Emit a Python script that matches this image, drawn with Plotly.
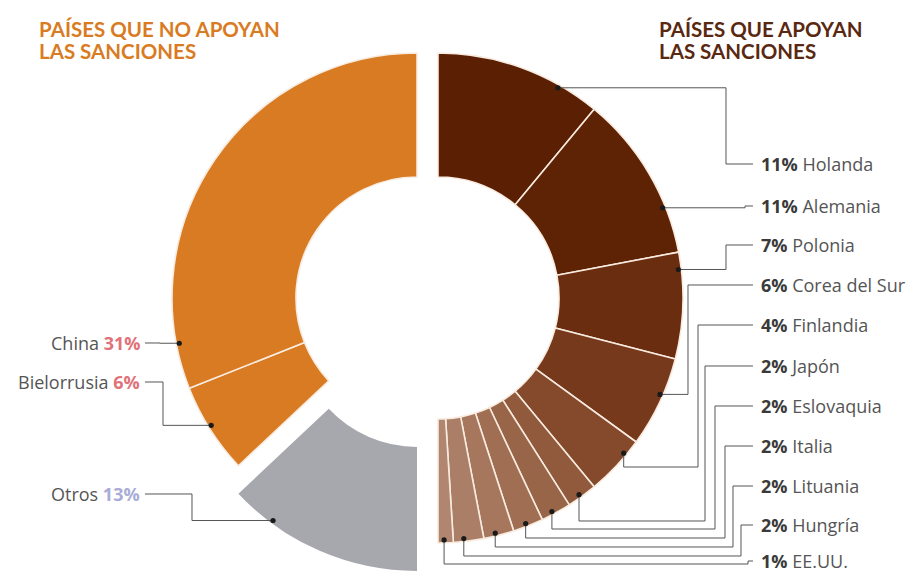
import math
import plotly.graph_objects as go

# ---------------- data ----------------
right_countries = ["Holanda", "Alemania", "Polonia", "Corea del Sur", "Finlandia", "Japón",
                   "Eslovaquia", "Italia", "Lituania", "Hungría", "EE.UU."]
right_values = [11, 11, 7, 6, 4, 2, 2, 2, 2, 2, 1]
left_countries = ["China", "Bielorrusia", "Otros"]
left_values = [31, 6, 13]
title_right = ["PAÍSES QUE APOYAN", "LAS SANCIONES"]
title_left = ["PAÍSES QUE NO APOYAN", "LAS SANCIONES"]

# ---------------- style / layout ----------------
PAGE_W, PAGE_H = 914, 572
OFF = 8                      # page body margin of the html page
W, H = PAGE_W - OFF, PAGE_H - OFF
R_OUT, HOLE = 245, 0.494
C_RIGHT = (438, 298)
C_ORANGE = (417, 298)
C_GREY = (417, 326)
right_colors = ["#5b1f03", "#5e2205", "#6a2d0f", "#77391b", "#85492b", "#915a3d",
                "#996548", "#a06e53", "#a6775d", "#ab7f67", "#b08670"]
orange = "#d97b22"
grey = "#a7a7ae"
sep = "#f8ebdf"
clear = "rgba(0,0,0,0)"
LABEL_FONT = "'Open Sans', 'Noto Sans', sans-serif"
TITLE_FONT = "Lato, sans-serif"
LABEL_SIZE = 18

right_anchor_frac = [0.75, 0.72, 0.16, 0.42, 0.27, 0.55, 0.6, 0.55, 0.6, 0.65, 0.6]
right_label_y = [164, 206, 245, 285, 325, 366, 406, 446, 486, 525, 561]
right_elbow_x = [726, 745, 726, 688, 698, 705, 715, 725, 733, 741, 748]
right_drop_y = [None, None, None, None, 467, 521, 529, 538, 547, 556, 564]
right_line_end = 753
right_text_x = 759

left_anchor_frac = [0.097, 0.53, 0.78]
left_label_y = [343, 382, 494]
left_elbow_x = [160, 163, 192]
left_line_start = 145
left_text_x = 142
left_pct_colors = ["#e0727a", "#e0727a", "#a9acd6"]


def px(x):
    return (x - OFF) / W


def py(y):
    return 1 - (y - OFF) / H


def domain(c):
    cx, cy = c
    return dict(x=[px(cx - R_OUT), px(cx + R_OUT)], y=[py(cy + R_OUT), py(cy - R_OUT)])


def polar(c, r, pct):
    th = math.radians(pct * 3.6)
    return c[0] + r * math.sin(th), c[1] - r * math.cos(th)


fig = go.Figure()

# right half (supporting)
half = sum(right_values)
fig.add_trace(go.Pie(
    values=right_values + [sum(left_values)],
    labels=right_countries + ["_rest"],
    sort=False, direction="clockwise", rotation=0, hole=HOLE,
    marker=dict(colors=right_colors + [clear],
                line=dict(color=[sep] * len(right_values) + [clear],
                          width=[1.6] * len(right_values) + [0])),
    textinfo="none", hoverinfo="skip", showlegend=False,
    domain=domain(C_RIGHT),
))

# orange part (China, Bielorrusia)
otros = left_values[2]
fig.add_trace(go.Pie(
    values=[half, otros, left_values[1], left_values[0]],
    labels=["_r", "_o", left_countries[1], left_countries[0]],
    sort=False, direction="clockwise", rotation=0, hole=HOLE,
    marker=dict(colors=[clear, clear, orange, orange],
                line=dict(color=[clear, clear, sep, sep], width=[0, 0, 1.6, 1.6])),
    textinfo="none", hoverinfo="skip", showlegend=False,
    domain=domain(C_ORANGE),
))

# grey part (Otros)
fig.add_trace(go.Pie(
    values=[half, otros, left_values[1] + left_values[0]],
    labels=["_r", left_countries[2], "_l"],
    sort=False, direction="clockwise", rotation=0, hole=HOLE,
    marker=dict(colors=[clear, grey, clear],
                line=dict(color=[clear, grey, clear], width=[0, 0, 0])),
    textinfo="none", hoverinfo="skip", showlegend=False,
    domain=domain(C_GREY),
))

shapes = []
annotations = []
line_style = dict(color="#555555", width=1)
DOT = 2.6


def dot(x, y):
    shapes.append(dict(type="circle", xref="paper", yref="paper",
                       x0=px(x - DOT), x1=px(x + DOT), y0=py(y + DOT), y1=py(y - DOT),
                       fillcolor="#1a1a1a", line=dict(width=0)))


def path(pts):
    d = "M " + " L ".join(f"{px(x):.5f},{py(y):.5f}" for x, y in pts)
    shapes.append(dict(type="path", xref="paper", yref="paper", path=d, line=line_style))


# right connectors + labels
cum = 0
for i, (name, v) in enumerate(zip(right_countries, right_values)):
    pct = cum + v * right_anchor_frac[i]
    cum += v
    dx, dy = polar(C_RIGHT, R_OUT - 3, pct)
    ly, ex, dr = right_label_y[i], right_elbow_x[i], right_drop_y[i]
    if dr is None:
        pts = [(dx, dy), (ex, dy), (ex, ly), (right_line_end, ly)]
    else:
        pts = [(dx, dy), (dx, dr), (ex, dr), (ex, ly), (right_line_end, ly)]
    path(pts)
    dot(dx, dy)
    annotations.append(dict(
        x=px(right_text_x), y=py(ly), xref="paper", yref="paper",
        xanchor="left", yanchor="middle", showarrow=False,
        text=f"<b><span style='color:#3a3a3a'>{v}%</span></b> {name}",
        font=dict(family=LABEL_FONT, size=LABEL_SIZE, color="#555555"),
    ))

# left connectors + labels (Otros from grey centre, others from orange centre)
starts = {"Otros": half, "Bielorrusia": half + otros, "China": half + otros + left_values[1]}
for i, (name, v) in enumerate(zip(left_countries, left_values)):
    c = C_GREY if name == "Otros" else C_ORANGE
    pct = starts[name] + v * left_anchor_frac[i]
    dx, dy = polar(c, R_OUT - 3, pct)
    ly, ex = left_label_y[i], left_elbow_x[i]
    path([(left_line_start, ly), (ex, ly), (ex, dy), (dx, dy)])
    dot(dx, dy)
    annotations.append(dict(
        x=px(left_text_x), y=py(ly), xref="paper", yref="paper",
        xanchor="right", yanchor="middle", showarrow=False,
        text=f"{name} <b><span style='color:{left_pct_colors[i]}'>{v}%</span></b>",
        font=dict(family=LABEL_FONT, size=LABEL_SIZE, color="#555555"),
    ))

# titles
for j, t in enumerate(title_left):
    annotations.append(dict(x=px(37), y=py(29 + 22 * j), xref="paper", yref="paper",
                            xanchor="left", yanchor="middle", showarrow=False,
                            text=f"<b>{t}</b>",
                            font=dict(family=TITLE_FONT, size=20.5, color="#d97b22")))
for j, t in enumerate(title_right):
    annotations.append(dict(x=px(657), y=py(29 + 22 * j), xref="paper", yref="paper",
                            xanchor="left", yanchor="middle", showarrow=False,
                            text=f"<b>{t}</b>",
                            font=dict(family=TITLE_FONT, size=20.5, color="#5a2810")))

fig.update_layout(width=W, height=H, margin=dict(l=0, r=0, t=0, b=0),
                  paper_bgcolor="white", plot_bgcolor="white",
                  shapes=shapes, annotations=annotations, showlegend=False)
fig.write_html("out.html")
